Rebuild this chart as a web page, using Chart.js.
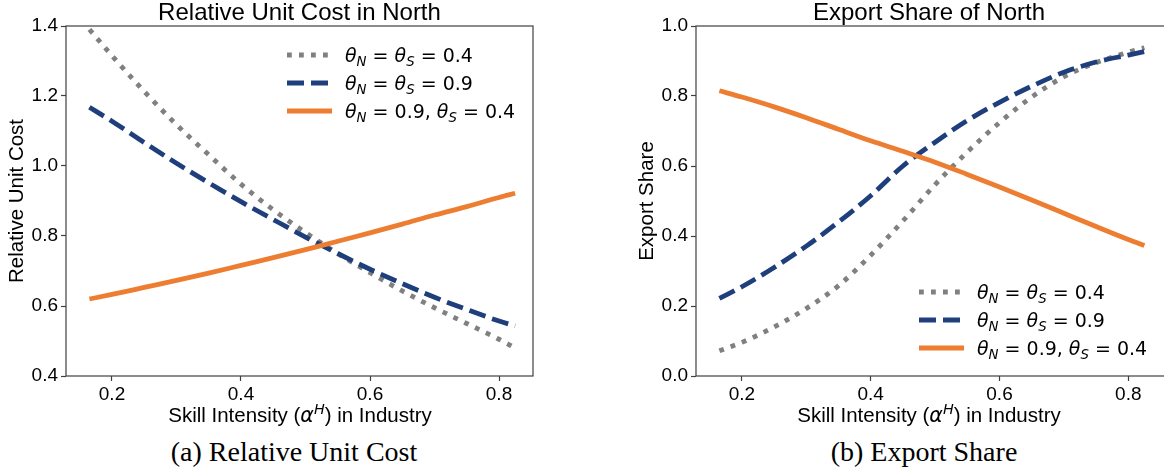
<!DOCTYPE html>
<html>
<head>
<meta charset="utf-8">
<script src="https://cdn.jsdelivr.net/npm/chart.js@4.4.1/dist/chart.umd.min.js"></script>
<style>
    body { margin: 0; width: 1164px; height: 474px; overflow: hidden; background: #fff; position: relative; }
    .panel { position: absolute; top: 0; }
    .xlab { position: absolute; transform: translateX(-50%); white-space: nowrap; font: 20.5px "Liberation Sans", Arial, sans-serif; line-height: 1; color: #000; }
    .xlab i { font-family: "DejaVu Sans"; font-style: italic; }
    .xlab sup { font-size: 70%; vertical-align: 0.55em; line-height: 0; }
    .caption { position: absolute; transform: translateX(-50%); white-space: nowrap; font: 28px "Liberation Serif", serif; line-height: 1; color: #000; }
</style>
</head>
<body>
<div class="panel" style="left:0px"><canvas id="costChart" width="560" height="420"></canvas></div>
<div class="panel" style="left:600px"><canvas id="shareChart" width="600" height="420"></canvas></div>
<div class="xlab" style="left:300px; top:405px">Skill Intensity (<i>α</i><sup><i>H</i></sup>) in Industry</div>
<div class="xlab" style="left:929px; top:405px">Skill Intensity (<i>α</i><sup><i>H</i></sup>) in Industry</div>
<div class="caption" style="left:294px; top:438px">(a) Relative Unit Cost</div>
<div class="caption" style="left:924px; top:438px">(b) Export Share</div>
<script>
// Skill intensity grid (x values)
const skill = [0.165, 0.2, 0.25, 0.3, 0.35, 0.4, 0.45, 0.5, 0.55, 0.6, 0.65, 0.7, 0.75, 0.8, 0.825];

// Panel (a): relative unit cost in North
const costLow = [1.39, 1.315, 1.213, 1.118, 1.032, 0.948, 0.875, 0.81, 0.75, 0.695, 0.643, 0.595, 0.55, 0.505, 0.48];
const costHigh = [1.168, 1.128, 1.067, 1.008, 0.952, 0.898, 0.847, 0.797, 0.75, 0.705, 0.664, 0.625, 0.59, 0.557, 0.543];
const costMixed = [0.62, 0.633, 0.653, 0.673, 0.694, 0.716, 0.738, 0.761, 0.785, 0.809, 0.834, 0.86, 0.884, 0.91, 0.922];

// Panel (b): export share of North
const shareLow = [0.072, 0.096, 0.14, 0.193, 0.258, 0.345, 0.443, 0.547, 0.64, 0.724, 0.797, 0.855, 0.895, 0.925, 0.938];
const shareHigh = [0.222, 0.255, 0.31, 0.371, 0.44, 0.515, 0.6, 0.668, 0.73, 0.782, 0.828, 0.868, 0.897, 0.917, 0.927];
const shareMixed = [0.815, 0.797, 0.769, 0.738, 0.705, 0.672, 0.642, 0.611, 0.576, 0.54, 0.503, 0.465, 0.427, 0.39, 0.373];

const seriesLabels = ['θ_N = θ_S = 0.4', 'θ_N = θ_S = 0.9', 'θ_N = 0.9, θ_S = 0.4'];
const xTicks = [0.2, 0.4, 0.6, 0.8];
const costTicks = [0.4, 0.6, 0.8, 1.0, 1.2, 1.4];
const shareTicks = [0.0, 0.2, 0.4, 0.6, 0.8, 1.0];

const GRAY = '#808080';
const NAVY = '#1f3e7c';
const ORANGE = '#ed7d31';
const SPINE = '#404040';

function toPoints(ys) {
    return skill.map((x, i) => ({ x: x, y: ys[i] }));
}

function makeDatasets(low, high, mixed) {
    return [{
        label: seriesLabels[0],
        data: toPoints(low),
        borderColor: GRAY,
        borderWidth: 4.8,
        borderDash: [4.8, 7.2],
        order: 3
    }, {
        label: seriesLabels[1],
        data: toPoints(high),
        borderColor: NAVY,
        borderWidth: 4.8,
        borderDash: [17, 7],
        order: 2
    }, {
        label: seriesLabels[2],
        data: toPoints(mixed),
        borderColor: ORANGE,
        borderWidth: 4.8,
        order: 1
    }];
}

// Draws a label like "θ_N = θ_S = 0.4" with italic symbols and subscripts
function drawMath(ctx, str, x, y, size) {
    let cx = x;
    for (let i = 0; i < str.length; i++) {
        let ch = str[i];
        let sub = false;
        if (ch === '_') {
            sub = true;
            ch = str[++i];
        }
        const ital = /[A-Za-zθα]/.test(ch);
        const fs = sub ? size * 0.7 : size;
        ctx.font = (ital ? 'italic ' : '') + fs + 'px "DejaVu Sans"';
        ctx.fillText(ch, cx, sub ? y + size * 0.24 : y);
        cx += ctx.measureText(ch).width;
    }
}

// Frame, title and legend drawn on top of the chart
const decor = {
    id: 'decor',
    afterDraw(chart, args, opts) {
        const ctx = chart.ctx;
        const a = chart.chartArea;
        ctx.save();
        ctx.strokeStyle = SPINE;
        ctx.lineWidth = 1.2;
        ctx.strokeRect(a.left, a.top, a.right - a.left, a.bottom - a.top);

        ctx.fillStyle = '#000';
        ctx.font = '24px "Liberation Sans", Arial, sans-serif';
        ctx.textAlign = 'center';
        ctx.textBaseline = 'middle';
        ctx.fillText(opts.title, a.left + opts.plotWidth / 2, a.top - 13);

        ctx.textAlign = 'left';
        ctx.textBaseline = 'alphabetic';
        chart.data.datasets.forEach((ds, i) => {
            const hx = a.left + opts.legendX;
            const hy = a.top + opts.legendY + i * 28;
            ctx.beginPath();
            ctx.strokeStyle = ds.borderColor;
            ctx.lineWidth = ds.borderWidth;
            ctx.setLineDash(ds.borderDash || []);
            ctx.moveTo(hx, hy);
            ctx.lineTo(hx + 45, hy);
            ctx.stroke();
            ctx.setLineDash([]);
            ctx.fillStyle = '#000';
            drawMath(ctx, ds.label, hx + 58, hy + 19 * 0.36, 19);
        });
        ctx.restore();
    }
};

function makeChart(id, datasets, cfg) {
    const ctx = document.getElementById(id).getContext('2d');
    return new Chart(ctx, {
        type: 'line',
        data: { datasets: datasets },
        plugins: [decor],
        options: {
            responsive: false,
            animation: false,
            events: [],
            layout: { padding: { left: 0, top: 26, right: cfg.padRight, bottom: 0 } },
            elements: {
                point: { radius: 0 },
                line: { tension: 0.4, cubicInterpolationMode: 'monotone', borderCapStyle: 'butt', fill: false }
            },
            plugins: {
                legend: { display: false },
                tooltip: { enabled: false },
                decor: { title: cfg.title, plotWidth: cfg.plotWidth, legendX: cfg.legendX, legendY: cfg.legendY }
            },
            scales: {
                x: {
                    type: 'linear',
                    min: cfg.xMin,
                    max: cfg.xMax,
                    afterBuildTicks: scale => { scale.ticks = xTicks.map(v => ({ value: v })); },
                    afterFit: scale => { scale.height = 44; },
                    border: { display: false },
                    grid: { drawOnChartArea: false, drawTicks: true, tickLength: 5, color: SPINE, tickWidth: 1.2 },
                    ticks: {
                        padding: 2,
                        color: '#000',
                        font: { family: 'Liberation Sans', size: 19 },
                        callback: v => v.toFixed(1)
                    }
                },
                y: {
                    min: cfg.yTicks[0],
                    max: cfg.yTicks[cfg.yTicks.length - 1],
                    afterBuildTicks: scale => { scale.ticks = cfg.yTicks.map(v => ({ value: v })); },
                    afterFit: scale => { scale.width = cfg.yWidth; },
                    border: { display: false },
                    grid: { drawOnChartArea: false, drawTicks: true, tickLength: 5, color: SPINE, tickWidth: 1.2 },
                    ticks: {
                        padding: 3,
                        color: '#000',
                        font: { family: 'Liberation Sans', size: 19 },
                        callback: v => v.toFixed(1)
                    },
                    title: {
                        display: true,
                        text: cfg.yTitle,
                        color: '#000',
                        font: { family: 'Liberation Sans', size: 20.5 },
                        padding: { top: cfg.yTitlePad, bottom: 0 }
                    }
                }
            }
        }
    });
}

makeChart('costChart', makeDatasets(costLow, costHigh, costMixed), {
    title: 'Relative Unit Cost in North',
    yTitle: 'Relative Unit Cost',
    yTicks: costTicks,
    xMin: 0.1287, xMax: 0.8527,
    yWidth: 66, padRight: 27, yTitlePad: 5,
    plotWidth: 467, legendX: 221, legendY: 29
});

makeChart('shareChart', makeDatasets(shareLow, shareHigh, shareMixed), {
    title: 'Export Share of North',
    yTitle: 'Export Share',
    yTicks: shareTicks,
    xMin: 0.1287, xMax: 0.857,
    yWidth: 96, padRight: 35, yTitlePad: 35,
    plotWidth: 466, legendX: 223, legendY: 266
});
</script>
</body>
</html>
